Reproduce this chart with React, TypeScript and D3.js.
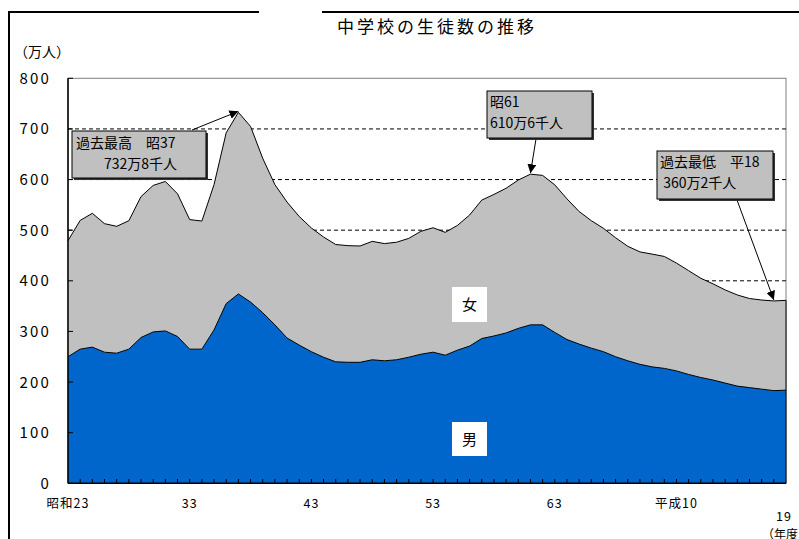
import React from "react";
import * as d3 from "d3";

const years = [
  1948, 1949, 1950, 1951, 1952, 1953, 1954, 1955, 1956, 1957,
  1958, 1959, 1960, 1961, 1962, 1963, 1964, 1965, 1966, 1967,
  1968, 1969, 1970, 1971, 1972, 1973, 1974, 1975, 1976, 1977,
  1978, 1979, 1980, 1981, 1982, 1983, 1984, 1985, 1986, 1987,
  1988, 1989, 1990, 1991, 1992, 1993, 1994, 1995, 1996, 1997,
  1998, 1999, 2000, 2001, 2002, 2003, 2004, 2005, 2006, 2007,
];

// 男 (万人)
const male = [
  250, 265, 269, 259, 257, 265, 288, 299, 301, 290,
  265, 265, 303, 355, 374, 358, 337, 313, 287, 273,
  260, 249, 240, 239, 239, 244, 242, 244, 249, 255,
  259, 253, 263, 271, 286, 291, 297, 306, 313, 313,
  298, 284, 275, 267, 260, 250, 242, 235, 230, 227,
  222, 215, 209, 204, 198, 192, 189, 186, 183, 184,
];

// 女 (万人)
const female = [
  229.3, 254.3, 264.3, 253.9, 250.6, 253.7, 278.4, 289.4, 295.3, 281.8,
  255.9, 253, 287, 337.4, 358.8, 347, 305, 277, 268.5, 254,
  244.3, 237.5, 231.7, 230.4, 229.8, 233.9, 231.5, 232.2, 234.8, 242.7,
  245.8, 242.7, 246.4, 258.9, 273.4, 279.6, 285.8, 293, 297.6, 295.2,
  291.6, 277.9, 261.9, 251.8, 243.6, 235, 226.1, 222.1, 222.7, 221.1,
  213, 205, 196, 190, 184, 180, 176, 176, 177.2, 177.4,
];

const yTicks = [0, 100, 200, 300, 400, 500, 600, 700, 800];
const gridValues = [100, 200, 300, 400, 500, 600, 700];
const xLabels = [
  { year: 1948, text: "昭和23" },
  { year: 1958, text: "33" },
  { year: 1968, text: "43" },
  { year: 1978, text: "53" },
  { year: 1988, text: "63" },
  { year: 1998, text: "平成10" },
];
const lastLabel = { year: 2007, text: "19" };

const notes = [
  { year: 1962, lines: ["過去最高　昭37", "　　732万8千人"] },
  { year: 1986, lines: ["昭61", "610万6千人"] },
  { year: 2006, lines: ["過去最低　平18", " 360万2千人"] },
];

const FONT = "'Noto Sans CJK JP', 'Noto Sans', sans-serif";

export default function App() {
  const x = d3.scalePoint<number>().domain(years).range([68, 786]);
  const y = d3.scaleLinear().domain([0, 800]).range([483.3, 78.3]);

  const rows = years.map((yr, i) => ({
    yr,
    m: male[i],
    t: male[i] + female[i],
  }));

  const maleArea = d3
    .area<any>()
    .x((d) => x(d.yr)!)
    .y0(y(0))
    .y1((d) => y(d.m));
  const femaleArea = d3
    .area<any>()
    .x((d) => x(d.yr)!)
    .y0((d) => y(d.m))
    .y1((d) => y(d.t));
  const maleLine = d3.line<any>().x((d) => x(d.yr)!).y((d) => y(d.m));
  const totalLine = d3.line<any>().x((d) => x(d.yr)!).y((d) => y(d.t));

  const totalOf = (yr: number) => {
    const i = years.indexOf(yr);
    return male[i] + female[i];
  };

  const boxes = [
    { x: 72, y: 131, w: 134, h: 47, ax: 192, ay: 130, tx: [76, 76], ty: [148, 169] },
    { x: 487, y: 91, w: 105, h: 47, ax: 536, ay: 139, tx: [490, 490], ty: [107, 128] },
    { x: 657, y: 151, w: 116, h: 48, ax: 737, ay: 200, tx: [660, 660], ty: [167, 188] },
  ];

  return (
    <svg
      width={799}
      height={539}
      style={{ position: "fixed", left: 0, top: 0, background: "#fff" }}
      fontFamily={FONT}
    >
      <defs>
        <marker
          id="arr"
          viewBox="0 0 10 10"
          refX="10"
          refY="5"
          markerWidth="9"
          markerHeight="9"
          markerUnits="userSpaceOnUse"
          orient="auto"
        >
          <path d="M0,0 L10,5 L0,10 Z" fill="#000" />
        </marker>
      </defs>

      {/* outer frame fragments */}
      <line x1={9} y1={12} x2={259} y2={12} stroke="#000" strokeWidth={2} />
      <line x1={322} y1={12} x2={799} y2={12} stroke="#000" strokeWidth={2} />
      <line x1={9} y1={11} x2={9} y2={539} stroke="#000" strokeWidth={2} />

      {/* title */}
      <text x={437} y={33} textAnchor="middle" fontSize={17} letterSpacing={3} fill="#000">
        中学校の生徒数の推移
      </text>
      <text x={14} y={57} fontSize={14} fill="#000">（万人）</text>

      {/* plot border */}
      <rect x={68} y={78.3} width={718} height={405} fill="none" stroke="#808080" strokeWidth={1} />

      {/* gridlines */}
      {gridValues.map((v) => (
        <line
          key={v}
          x1={68}
          x2={786}
          y1={y(v)}
          y2={y(v)}
          stroke="#000"
          strokeWidth={1}
          strokeDasharray="4,3"
        />
      ))}

      {/* areas */}
      <path d={femaleArea(rows)!} fill="#C0C0C0" />
      <path d={maleArea(rows)!} fill="#0066CC" />
      <path d={totalLine(rows)!} fill="none" stroke="#000" strokeWidth={1} />
      <path d={maleLine(rows)!} fill="none" stroke="#000" strokeWidth={1} />
      <line x1={786} x2={786} y1={y(totalOf(2007))} y2={483.3} stroke="#000" strokeWidth={1} />

      {/* axes */}
      <line x1={68} y1={78.3} x2={68} y2={483.3} stroke="#000" strokeWidth={1.5} />
      <line x1={68} y1={483.3} x2={786} y2={483.3} stroke="#000" strokeWidth={1.5} />
      {yTicks.map((v) => (
        <g key={v}>
          <line x1={68} x2={73} y1={y(v)} y2={y(v)} stroke="#000" />
          <text x={51} y={y(v) + 5.5} textAnchor="end" fontSize={15} letterSpacing={2.2} fill="#000">
            {v}
          </text>
        </g>
      ))}
      {years.slice(1, -1).map((yr) => (
        <line key={yr} x1={x(yr)} x2={x(yr)} y1={483.3} y2={479} stroke="#000" />
      ))}
      {xLabels.map((l) => (
        <text key={l.year} x={x(l.year)} y={508} textAnchor="middle" fontSize={12.5} letterSpacing={1} fill="#000">
          {l.text}
        </text>
      ))}
      <text x={x(lastLabel.year)! - 2} y={521} textAnchor="middle" fontSize={12.5} letterSpacing={1} fill="#000">
        {lastLabel.text}
      </text>
      <text x={762} y={539} fontSize={12} fill="#000">（年度</text>

      {/* series labels */}
      <rect x={452} y={287} width={35} height={35} fill="#fff" />
      <text x={469.5} y={310} textAnchor="middle" fontSize={15} fill="#000">女</text>
      <rect x={452} y={422} width={35} height={34} fill="#fff" />
      <text x={469.5} y={445} textAnchor="middle" fontSize={15} fill="#000">男</text>

      {/* annotations */}
      {notes.map((n, k) => {
        const b = boxes[k];
        const px = x(n.year)!;
        const py = y(totalOf(n.year)) - 1;
        return (
          <g key={n.year}>
            <line x1={b.ax} y1={b.ay} x2={px} y2={py} stroke="#000" strokeWidth={1} markerEnd="url(#arr)" />
            <rect x={b.x + 2} y={b.y + 2} width={b.w} height={b.h} fill="#333" />
            <rect x={b.x} y={b.y} width={b.w} height={b.h} fill="#C0C0C0" stroke="#000" strokeWidth={1} />
            {n.lines.map((ln, j) => (
              <text key={j} x={b.tx[j]} y={b.ty[j]} fontSize={14} fill="#000" style={{ whiteSpace: "pre" }}>
                {ln}
              </text>
            ))}
          </g>
        );
      })}
    </svg>
  );
}
